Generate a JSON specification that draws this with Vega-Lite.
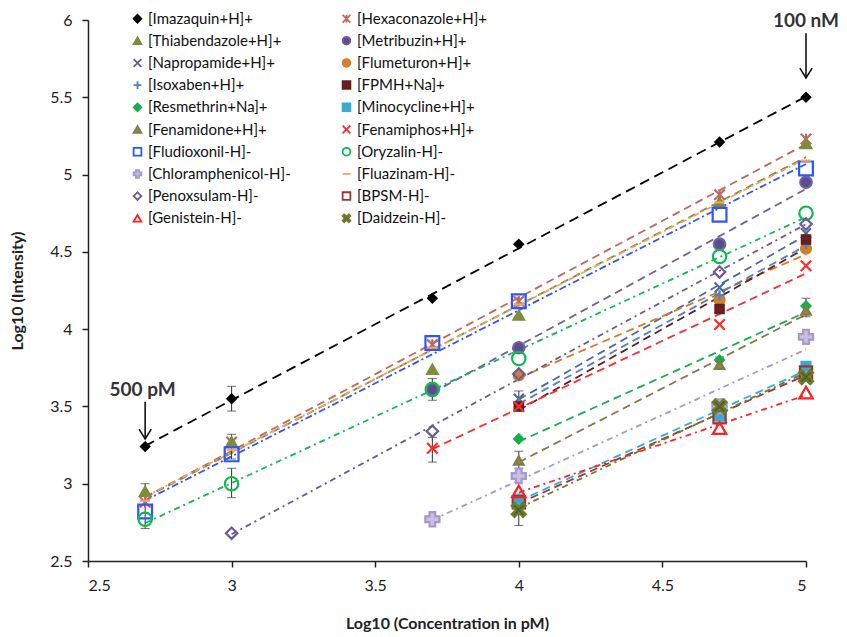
{
  "$schema": "https://vega.github.io/schema/vega-lite/v6.json",
  "width": 718,
  "height": 541,
  "autosize": {"type": "none"},
  "padding": {"left": 88, "top": 20, "right": 41, "bottom": 76},
  "background": "white",
  "config": {
    "view": {"stroke": null},
    "font": "Lato",
    "axis": {"grid": false, "domainColor": "#222", "domainWidth": 1.5, "tickColor": "#222", "tickWidth": 1.5, "tickSize": 6, "labelFont": "Lato", "labelFontSize": 16, "labelColor": "#222", "titleFont": "Lato", "titleFontSize": 16, "titleFontWeight": "bold", "titleColor": "#222"},
    "legend": {"labelFont": "Lato", "labelFontSize": 15, "labelColor": "#111", "symbolSize": 60, "symbolStrokeWidth": 1.8, "labelOffset": 3, "labelLimit": 300}
  },
  "datasets": {
    "pts": [
      {"s": "[Imazaquin+H]+", "x": 2.699, "y": 3.24},
      {"s": "[Imazaquin+H]+", "x": 3, "y": 3.55},
      {"s": "[Imazaquin+H]+", "x": 3.699, "y": 4.2},
      {"s": "[Imazaquin+H]+", "x": 4, "y": 4.55},
      {"s": "[Imazaquin+H]+", "x": 4.699, "y": 5.21},
      {"s": "[Imazaquin+H]+", "x": 5, "y": 5.5},
      {"s": "[Hexaconazole+H]+", "x": 2.699, "y": 2.88},
      {"s": "[Hexaconazole+H]+", "x": 3, "y": 3.27},
      {"s": "[Hexaconazole+H]+", "x": 3.699, "y": 3.9},
      {"s": "[Hexaconazole+H]+", "x": 4, "y": 4.18},
      {"s": "[Hexaconazole+H]+", "x": 4.699, "y": 4.87},
      {"s": "[Hexaconazole+H]+", "x": 5, "y": 5.23},
      {"s": "[Thiabendazole+H]+", "x": 2.699, "y": 2.95},
      {"s": "[Thiabendazole+H]+", "x": 3, "y": 3.27},
      {"s": "[Thiabendazole+H]+", "x": 3.699, "y": 3.74},
      {"s": "[Thiabendazole+H]+", "x": 4, "y": 4.09},
      {"s": "[Thiabendazole+H]+", "x": 4.699, "y": 4.82},
      {"s": "[Thiabendazole+H]+", "x": 5, "y": 5.2},
      {"s": "[Metribuzin+H]+", "x": 3.699, "y": 3.61},
      {"s": "[Metribuzin+H]+", "x": 4, "y": 3.88},
      {"s": "[Metribuzin+H]+", "x": 4.699, "y": 4.55},
      {"s": "[Metribuzin+H]+", "x": 5, "y": 4.95},
      {"s": "[Napropamide+H]+", "x": 4, "y": 3.55},
      {"s": "[Napropamide+H]+", "x": 4.699, "y": 4.27},
      {"s": "[Napropamide+H]+", "x": 5, "y": 4.62},
      {"s": "[Flumeturon+H]+", "x": 4, "y": 3.7},
      {"s": "[Flumeturon+H]+", "x": 4.699, "y": 4.19},
      {"s": "[Flumeturon+H]+", "x": 5, "y": 4.52},
      {"s": "[Isoxaben+H]+", "x": 4, "y": 3.52},
      {"s": "[Isoxaben+H]+", "x": 4.699, "y": 4.22},
      {"s": "[Isoxaben+H]+", "x": 5, "y": 4.55},
      {"s": "[FPMH+Na]+", "x": 4, "y": 3.5},
      {"s": "[FPMH+Na]+", "x": 4.699, "y": 4.13},
      {"s": "[FPMH+Na]+", "x": 5, "y": 4.58},
      {"s": "[Resmethrin+Na]+", "x": 4, "y": 3.29},
      {"s": "[Resmethrin+Na]+", "x": 4.699, "y": 3.8},
      {"s": "[Resmethrin+Na]+", "x": 5, "y": 4.15},
      {"s": "[Minocycline+H]+", "x": 4, "y": 2.9},
      {"s": "[Minocycline+H]+", "x": 4.699, "y": 3.44},
      {"s": "[Minocycline+H]+", "x": 5, "y": 3.76},
      {"s": "[Fenamidone+H]+", "x": 4, "y": 3.15},
      {"s": "[Fenamidone+H]+", "x": 4.699, "y": 3.77},
      {"s": "[Fenamidone+H]+", "x": 5, "y": 4.12},
      {"s": "[Fenamiphos+H]+", "x": 3.699, "y": 3.23},
      {"s": "[Fenamiphos+H]+", "x": 4, "y": 3.5},
      {"s": "[Fenamiphos+H]+", "x": 4.699, "y": 4.03},
      {"s": "[Fenamiphos+H]+", "x": 5, "y": 4.41},
      {"s": "[Fludioxonil-H]-", "x": 2.699, "y": 2.82},
      {"s": "[Fludioxonil-H]-", "x": 3, "y": 3.19},
      {"s": "[Fludioxonil-H]-", "x": 3.699, "y": 3.91},
      {"s": "[Fludioxonil-H]-", "x": 4, "y": 4.18},
      {"s": "[Fludioxonil-H]-", "x": 4.699, "y": 4.74},
      {"s": "[Fludioxonil-H]-", "x": 5, "y": 5.04},
      {"s": "[Oryzalin-H]-", "x": 2.699, "y": 2.77},
      {"s": "[Oryzalin-H]-", "x": 3, "y": 3.0},
      {"s": "[Oryzalin-H]-", "x": 3.699, "y": 3.61},
      {"s": "[Oryzalin-H]-", "x": 4, "y": 3.81},
      {"s": "[Oryzalin-H]-", "x": 4.699, "y": 4.47},
      {"s": "[Oryzalin-H]-", "x": 5, "y": 4.75},
      {"s": "[Chloramphenicol-H]-", "x": 3.699, "y": 2.77},
      {"s": "[Chloramphenicol-H]-", "x": 4, "y": 3.05},
      {"s": "[Chloramphenicol-H]-", "x": 4.699, "y": 3.5},
      {"s": "[Chloramphenicol-H]-", "x": 5, "y": 3.95},
      {"s": "[Fluazinam-H]-", "x": 2.699, "y": 2.89},
      {"s": "[Fluazinam-H]-", "x": 3, "y": 3.22},
      {"s": "[Fluazinam-H]-", "x": 3.699, "y": 3.88},
      {"s": "[Fluazinam-H]-", "x": 4, "y": 4.16},
      {"s": "[Fluazinam-H]-", "x": 4.699, "y": 4.82},
      {"s": "[Fluazinam-H]-", "x": 5, "y": 5.09},
      {"s": "[Penoxsulam-H]-", "x": 3, "y": 2.68},
      {"s": "[Penoxsulam-H]-", "x": 3.699, "y": 3.34},
      {"s": "[Penoxsulam-H]-", "x": 4, "y": 3.71},
      {"s": "[Penoxsulam-H]-", "x": 4.699, "y": 4.37},
      {"s": "[Penoxsulam-H]-", "x": 5, "y": 4.68},
      {"s": "[BPSM-H]-", "x": 4, "y": 2.88},
      {"s": "[BPSM-H]-", "x": 4.699, "y": 3.43},
      {"s": "[BPSM-H]-", "x": 5, "y": 3.72},
      {"s": "[Genistein-H]-", "x": 4, "y": 2.95},
      {"s": "[Genistein-H]-", "x": 4.699, "y": 3.36},
      {"s": "[Genistein-H]-", "x": 5, "y": 3.59},
      {"s": "[Daidzein-H]-", "x": 4, "y": 2.83},
      {"s": "[Daidzein-H]-", "x": 4.699, "y": 3.5},
      {"s": "[Daidzein-H]-", "x": 5, "y": 3.69}
    ],
    "err": [
      {"x": 3, "lo": 3.47, "hi": 3.63},
      {"x": 2.699, "lo": 2.71, "hi": 3.0},
      {"x": 3, "lo": 3.16, "hi": 3.32},
      {"x": 3, "lo": 2.91, "hi": 3.1},
      {"x": 3.699, "lo": 3.54, "hi": 3.68},
      {"x": 3.699, "lo": 3.14, "hi": 3.3},
      {"x": 4, "lo": 3.1, "hi": 3.21},
      {"x": 4, "lo": 2.73, "hi": 2.9},
      {"x": 4, "lo": 3.47, "hi": 3.6},
      {"x": 4.699, "lo": 3.74, "hi": 3.82},
      {"x": 4.699, "lo": 3.4, "hi": 3.52},
      {"x": 5, "lo": 4.08, "hi": 4.2}
    ],
    "notes": [
      {"x": 2.69, "y": 3.567, "t": "500 pM"},
      {"x": 5, "y": 5.955, "t": "100 nM"}
    ],
    "arrows": [
      {"x": 2.699, "y1": 3.53, "y2": 3.29},
      {"x": 5, "y1": 5.915, "y2": 5.625}
    ]
  },
  "data": {"name": "pts"},
  "layer": [
    {
      "transform": [{"regression": "y", "on": "x", "groupby": ["s"]}],
      "mark": {"type": "line", "strokeWidth": 1.8},
      "encoding": {
        "x": {"field": "x", "type": "quantitative"},
        "y": {"field": "y", "type": "quantitative"},
        "detail": {"field": "s"},
        "stroke": {"field": "s", "type": "nominal", "title": null},
        "strokeDash": {"field": "s", "type": "nominal", "legend": null,
          "scale": {"domain": ["[Imazaquin+H]+", "[Thiabendazole+H]+", "[Napropamide+H]+", "[Isoxaben+H]+", "[Resmethrin+Na]+", "[Fenamidone+H]+", "[Fludioxonil-H]-", "[Chloramphenicol-H]-", "[Penoxsulam-H]-", "[Genistein-H]-", "[Hexaconazole+H]+", "[Metribuzin+H]+", "[Flumeturon+H]+", "[FPMH+Na]+", "[Minocycline+H]+", "[Fenamiphos+H]+", "[Oryzalin-H]-", "[Fluazinam-H]-", "[BPSM-H]-", "[Daidzein-H]-"],
            "range": [[10, 6], [8, 5], [8, 5], [8, 5], [8, 5], [8, 5], [7, 3, 2, 3], [6, 4, 2, 4], [6, 4, 2, 4], [6, 4, 2, 4], [8, 5], [8, 5], [8, 5], [8, 5], [8, 5], [8, 5], [6, 4, 2, 4], [6, 3, 2, 3], [8, 5], [6, 4, 2, 4]]}}
      }
    },
    {
      "data": {"name": "err"},
      "mark": {"type": "rule", "color": "#333", "strokeWidth": 1},
      "encoding": {
        "x": {"field": "x", "type": "quantitative"},
        "y": {"field": "lo", "type": "quantitative"},
        "y2": {"field": "hi"}
      }
    },
    {
      "data": {"name": "err"},
      "mark": {"type": "tick", "color": "#333", "orient": "horizontal", "size": 9, "thickness": 1},
      "encoding": {
        "x": {"field": "x", "type": "quantitative"},
        "y": {"field": "lo", "type": "quantitative"}
      }
    },
    {
      "data": {"name": "err"},
      "mark": {"type": "tick", "color": "#333", "orient": "horizontal", "size": 9, "thickness": 1},
      "encoding": {
        "x": {"field": "x", "type": "quantitative"},
        "y": {"field": "hi", "type": "quantitative"}
      }
    },
    {
      "mark": {"type": "point", "strokeWidth": 2.2, "opacity": 1},
      "encoding": {
        "x": {"field": "x", "type": "quantitative", "title": "Log10 (Concentration in pM)",
          "scale": {"domain": [2.5, 5], "nice": false, "zero": false},
          "axis": {"values": [2.5, 3, 3.5, 4, 4.5, 5], "format": ".1~f", "labelPadding": 10, "titlePadding": 22}},
        "y": {"field": "y", "type": "quantitative", "title": "Log10 (Intensity)",
          "scale": {"domain": [2.5, 6], "nice": false, "zero": false},
          "axis": {"values": [2.5, 3, 3.5, 4, 4.5, 5, 5.5, 6], "format": ".1~f", "labelPadding": 10, "titlePadding": 24}},
        "shape": {"field": "s", "type": "nominal", "title": null,
          "legend": {"orient": "none", "legendX": 42, "legendY": -9, "columns": 2, "columnPadding": 48, "rowPadding": 6.2},
          "scale": {"domain": ["[Imazaquin+H]+", "[Thiabendazole+H]+", "[Napropamide+H]+", "[Isoxaben+H]+", "[Resmethrin+Na]+", "[Fenamidone+H]+", "[Fludioxonil-H]-", "[Chloramphenicol-H]-", "[Penoxsulam-H]-", "[Genistein-H]-", "[Hexaconazole+H]+", "[Metribuzin+H]+", "[Flumeturon+H]+", "[FPMH+Na]+", "[Minocycline+H]+", "[Fenamiphos+H]+", "[Oryzalin-H]-", "[Fluazinam-H]-", "[BPSM-H]-", "[Daidzein-H]-"],
            "range": ["diamond", "triangle-up", "M-1,-1L1,1M-1,1L1,-1", "M-1,0L1,0M0,-1L0,1", "diamond", "triangle-up", "square", "cross", "diamond", "triangle-up", "M-1,-1L1,1M-1,1L1,-1M0,-1L0,1", "circle", "circle", "square", "square", "M-1,-1L1,1M-1,1L1,-1", "circle", "M-1,0L1,0", "square", "M-1,-0.6L-0.6,-1L0,-0.4L0.6,-1L1,-0.6L0.4,0L1,0.6L0.6,1L0,0.4L-0.6,1L-1,0.6L-0.4,0Z"]}},
        "fill": {"field": "s", "type": "nominal", "title": null,
          "scale": {"domain": ["[Imazaquin+H]+", "[Thiabendazole+H]+", "[Napropamide+H]+", "[Isoxaben+H]+", "[Resmethrin+Na]+", "[Fenamidone+H]+", "[Fludioxonil-H]-", "[Chloramphenicol-H]-", "[Penoxsulam-H]-", "[Genistein-H]-", "[Hexaconazole+H]+", "[Metribuzin+H]+", "[Flumeturon+H]+", "[FPMH+Na]+", "[Minocycline+H]+", "[Fenamiphos+H]+", "[Oryzalin-H]-", "[Fluazinam-H]-", "[BPSM-H]-", "[Daidzein-H]-"],
            "range": ["#000000", "#7f8c3b", "transparent", "transparent", "#13b04a", "#8a8a4a", "transparent", "#cbbfe2", "transparent", "transparent", "transparent", "#5e4b8b", "#d08030", "#6b1f1f", "#45a5c5", "transparent", "transparent", "transparent", "transparent", "#4f6228"]}},
        "stroke": {"field": "s", "type": "nominal", "title": null,
          "scale": {"domain": ["[Imazaquin+H]+", "[Thiabendazole+H]+", "[Napropamide+H]+", "[Isoxaben+H]+", "[Resmethrin+Na]+", "[Fenamidone+H]+", "[Fludioxonil-H]-", "[Chloramphenicol-H]-", "[Penoxsulam-H]-", "[Genistein-H]-", "[Hexaconazole+H]+", "[Metribuzin+H]+", "[Flumeturon+H]+", "[FPMH+Na]+", "[Minocycline+H]+", "[Fenamiphos+H]+", "[Oryzalin-H]-", "[Fluazinam-H]-", "[BPSM-H]-", "[Daidzein-H]-"],
            "range": ["#000000", "#7f8c3b", "#4a6a9a", "#4f81bd", "#13b04a", "#837a48", "#2f55ff", "#a898cc", "#6a5a98", "#ff2020", "#bb6a62", "#7060a0", "#d97a25", "#5e2020", "#30aee0", "#ff2a2a", "#10b850", "#f2a460", "#a03535", "#6f7a2c"]}},
        "size": {"field": "s", "type": "nominal", "legend": null,
          "scale": {"type": "ordinal", "domain": ["[Imazaquin+H]+", "[Thiabendazole+H]+", "[Napropamide+H]+", "[Isoxaben+H]+", "[Resmethrin+Na]+", "[Fenamidone+H]+", "[Fludioxonil-H]-", "[Chloramphenicol-H]-", "[Penoxsulam-H]-", "[Genistein-H]-", "[Hexaconazole+H]+", "[Metribuzin+H]+", "[Flumeturon+H]+", "[FPMH+Na]+", "[Minocycline+H]+", "[Fenamiphos+H]+", "[Oryzalin-H]-", "[Fluazinam-H]-", "[BPSM-H]-", "[Daidzein-H]-"],
            "range": [70, 110, 100, 100, 80, 90, 190, 200, 130, 180, 110, 130, 100, 70, 80, 110, 180, 100, 150, 200]}}
      }
    },
    {
      "data": {"name": "arrows"},
      "mark": {"type": "rule", "color": "#111", "strokeWidth": 1.6},
      "encoding": {
        "x": {"field": "x", "type": "quantitative"},
        "y": {"field": "y1", "type": "quantitative"},
        "y2": {"field": "y2"}
      }
    },
    {
      "data": {"name": "arrows"},
      "mark": {"type": "point", "shape": "M-1,-1.6L0,0L1,-1.6", "size": 150, "stroke": "#111", "strokeWidth": 1.6, "fill": "transparent", "opacity": 1},
      "encoding": {
        "x": {"field": "x", "type": "quantitative"},
        "y": {"field": "y2", "type": "quantitative"}
      }
    },
    {
      "data": {"name": "notes"},
      "mark": {"type": "text", "fontSize": 19, "fontWeight": "bold", "color": "#333", "baseline": "alphabetic", "align": "center", "font": "Lato"},
      "encoding": {
        "x": {"field": "x", "type": "quantitative"},
        "y": {"field": "y", "type": "quantitative"},
        "text": {"field": "t"}
      }
    }
  ],
  "resolve": {"scale": {"strokeDash": "independent", "size": "independent"}, "legend": {"strokeDash": "independent", "size": "independent"}}
}
